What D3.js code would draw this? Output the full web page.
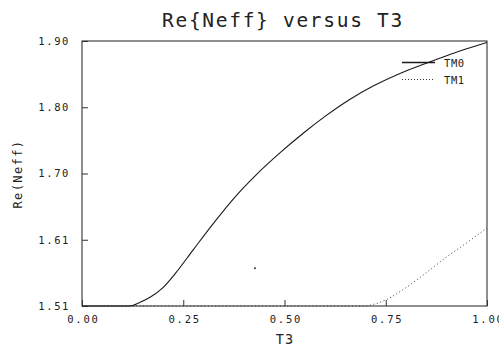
<!DOCTYPE html>
<html>
<head>
<meta charset="utf-8">
<script src="https://cdn.jsdelivr.net/npm/d3@7"></script>
<style>
  html, body { margin: 0; padding: 0; background: #fff; }
  svg { display: block; }
  text { font-family: "DejaVu Sans Mono", monospace; fill: #222; }
</style>
</head>
<body>
<svg id="chart" width="499" height="348"></svg>
<script>
// ---- data ----
const tm0T = [0.00, 0.11, 0.125, 0.14, 0.17, 0.20, 0.23, 0.275, 0.325, 0.375, 0.43, 0.49, 0.55, 0.60, 0.66, 0.72, 0.785, 0.85, 0.91, 0.96, 1.00];
const tm0N = [1.51, 1.51, 1.5108, 1.5145, 1.5235, 1.537, 1.5575, 1.593, 1.632, 1.6685, 1.703, 1.736, 1.766, 1.789, 1.8136, 1.834, 1.8522, 1.8672, 1.8805, 1.8905, 1.898];
const tm1T = [0.00, 0.70, 0.72, 0.75, 0.80, 0.85, 0.90, 0.95, 1.00];
const tm1N = [1.51, 1.51, 1.5125, 1.519, 1.537, 1.559, 1.582, 1.603, 1.625];
const specT = [0.427];
const specN = [1.5655];
const xTickVals = [0.00, 0.25, 0.50, 0.75, 1.00];
const xTickLabels = ["0.00", "0.25", "0.50", "0.75", "1.00"];
const yTickVals = [1.51, 1.6075, 1.705, 1.8025, 1.90];
const yTickLabels = ["1.51", "1.61", "1.70", "1.80", "1.90"];
const seriesNames = ["TM0", "TM1"];
const titleText = "Re{Neff} versus T3";
const xLabel = "T3";
const yLabel = "Re(Neff)";

// ---- layout ----
const svg = d3.select("#chart");
const L = 82, R = 487, T = 41, B = 306;
const x = d3.scaleLinear().domain([0, 1]).range([L, R]);
const y = d3.scaleLinear().domain([1.51, 1.90]).range([B, T]);

// frame
svg.append("rect")
  .attr("x", L).attr("y", T).attr("width", R - L).attr("height", B - T)
  .attr("fill", "none").attr("stroke", "#333").attr("stroke-width", 1.1);

// y axis
const yAxis = d3.axisLeft(y).tickValues(yTickVals).tickSize(-6)
  .tickFormat((d, i) => yTickLabels[i]).tickPadding(12);
const gy = svg.append("g").attr("transform", `translate(${L},0)`).call(yAxis);
gy.select(".domain").remove();
gy.selectAll(".tick line").attr("stroke", "#333");
gy.selectAll(".tick text")
  .style("font-family", "DejaVu Sans Mono").style("font-size", "10.5px")
  .style("letter-spacing", "1.6px").attr("fill", "#222");

// x axis
const xAxis = d3.axisBottom(x).tickValues(xTickVals).tickSize(-6)
  .tickFormat((d, i) => xTickLabels[i]).tickPadding(10);
const gx = svg.append("g").attr("transform", `translate(0,${B})`).call(xAxis);
gx.select(".domain").remove();
gx.selectAll(".tick line").attr("stroke", "#333");
gx.selectAll(".tick text")
  .style("font-family", "DejaVu Sans Mono").style("font-size", "10.5px")
  .style("letter-spacing", "1.8px").attr("fill", "#222")
  .attr("dx", "0.9px");

// lines
const line = d3.line().x(d => x(d[0])).y(d => y(d[1])).curve(d3.curveMonotoneX);
const tm0 = tm0T.map((t, i) => [t, tm0N[i]]);
const tm1 = tm1T.map((t, i) => [t, tm1N[i]]);

svg.append("path").datum(tm0).attr("d", line)
  .attr("fill", "none").attr("stroke", "#1a1a1a").attr("stroke-width", 1.1);
svg.append("path").datum(tm1).attr("d", line)
  .attr("fill", "none").attr("stroke", "#333").attr("stroke-width", 1)
  .attr("stroke-dasharray", "1,2.6");

svg.selectAll(".spec").data(specT.map((t, i) => [t, specN[i]])).enter()
  .append("circle").attr("cx", d => x(d[0])).attr("cy", d => y(d[1]))
  .attr("r", 1).attr("fill", "#333");

// legend
const lg = svg.append("g");
lg.append("line").attr("x1", 402).attr("x2", 435).attr("y1", 62.5).attr("y2", 62.5)
  .attr("stroke", "#1a1a1a").attr("stroke-width", 1.5);
lg.append("line").attr("x1", 402).attr("x2", 433).attr("y1", 79.5).attr("y2", 79.5)
  .attr("stroke", "#333").attr("stroke-width", 1).attr("stroke-dasharray", "1,2");
lg.selectAll("text.lg").data(seriesNames).enter().append("text")
  .attr("x", 444).attr("y", (d, i) => 66.5 + i * 17)
  .style("font-size", "10.5px").style("letter-spacing", "0.6px")
  .text(d => d);

// title
svg.append("text").attr("x", 283).attr("y", 26.5).attr("text-anchor", "middle")
  .style("font-size", "19.5px").style("letter-spacing", "1.7px")
  .text(titleText);

// axis labels
svg.append("text").attr("x", 285).attr("y", 344).attr("text-anchor", "middle")
  .style("font-size", "13.5px").style("letter-spacing", "1px")
  .text(xLabel);
svg.append("text").attr("transform", "translate(22,174) rotate(-90)")
  .attr("text-anchor", "middle")
  .style("font-size", "12px").style("letter-spacing", "1.4px")
  .text(yLabel);
</script>
</body>
</html>
